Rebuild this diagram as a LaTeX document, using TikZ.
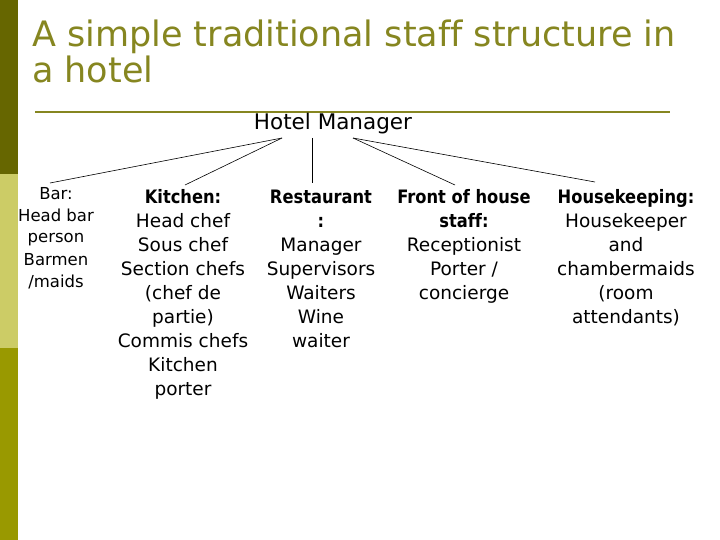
\documentclass[tikz,border=0pt]{standalone}
\usepackage{fontspec}
\setmainfont{DejaVu Sans}[Ligatures=NoCommon]
\newfontfamily\hdfont{DejaVu Sans}[FakeStretch=0.88,Ligatures=NoCommon]
\definecolor{sbdark}{HTML}{666600}
\definecolor{sblight}{HTML}{CCCC66}
\definecolor{sbolive}{HTML}{999900}
\definecolor{titlecol}{HTML}{868620}
\newcommand{\hd}[1]{{\hdfont\bfseries #1}}
\begin{document}
\begin{tikzpicture}[x=1pt,y=-1pt,
  col/.style={anchor=base,align=center,inner sep=0pt,font=\fontsize{18.5}{24}\selectfont},
  barcol/.style={anchor=base,align=center,inner sep=0pt,font=\fontsize{16.5}{22}\selectfont},
  link/.style={draw=black,line width=0.6pt}]
\useasboundingbox (0,0) rectangle (720,540);
\fill[white] (0,0) rectangle (720,540);
% sidebar
\fill[sbdark] (0,0) rectangle (18,174);
\fill[sblight] (0,174) rectangle (18,348);
\fill[sbolive] (0,348) rectangle (18,540);
% title (anchor = baseline of last line)
\node[anchor=base west,align=left,inner sep=0pt,text=titlecol,
  font=\fontsize{35}{36}\selectfont] (title) at (32,83)
  {A simple traditional staff structure in\\a hotel};
\draw[titlecol,line width=2pt] (35,112) -- (670,112);
% manager
\node[anchor=base,inner sep=0pt,font=\fontsize{21.5}{24}\selectfont] (mgr) at (333,130) {Hotel Manager};
% columns (anchor = baseline of last line)
\node[barcol] (bar) at (56,287) {Bar:\\Head bar\\person\\Barmen\\/maids};
\node[col] (kit) at (183,395) {\hd{Kitchen:}\\Head chef\\Sous chef\\Section chefs\\(chef de\\partie)\\Commis chefs\\Kitchen\\porter};
\node[col] (rest) at (321,347) {\hd{Restaurant}\\\hd{:}\\Manager\\Supervisors\\Waiters\\Wine\\waiter};
\node[col] (front) at (464,299) {\hd{Front of house}\\\hd{staff:}\\Receptionist\\Porter /\\concierge};
\node[col] (house) at (626,323) {\hd{Housekeeping:}\\Housekeeper\\and\\chambermaids\\(room\\attendants)};
% connector ends
\coordinate (mL) at (282,138);
\coordinate (mC) at (312,138);
\coordinate (mR) at (353,138);
\coordinate (eBar) at (50,183);
\coordinate (eKit) at (185,185);
\coordinate (eRest) at (312,183);
\coordinate (eFront) at (455,185);
\coordinate (eHouse) at (595,182);
\draw[link] (mL) -- (eBar);
\draw[link] (mL) -- (eKit);
\draw[link] (mC) -- (eRest);
\draw[link] (mR) -- (eFront);
\draw[link] (mR) -- (eHouse);
\end{tikzpicture}
\end{document}
